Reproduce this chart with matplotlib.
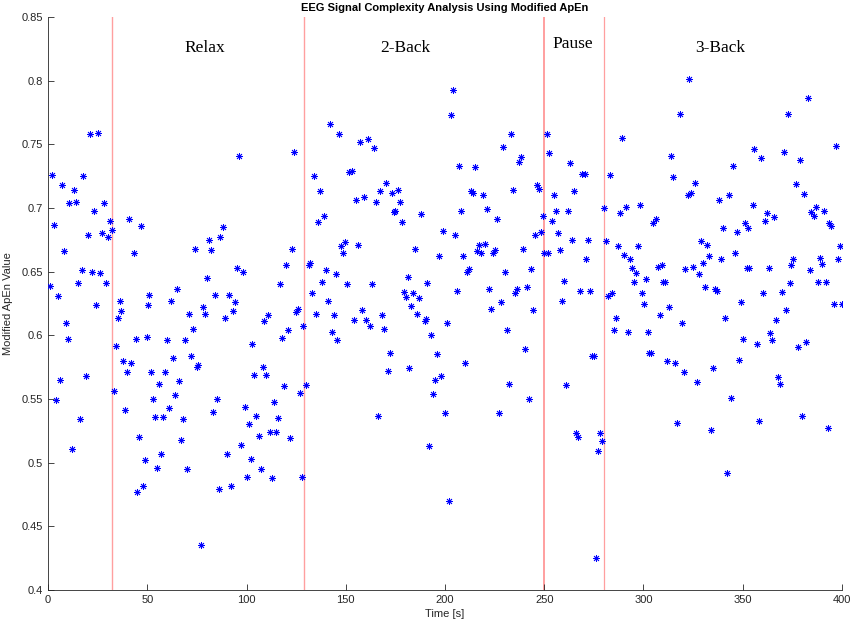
import matplotlib
matplotlib.use('Agg')
import matplotlib.pyplot as plt

# Czas [s] i wartości zmodyfikowanej ApEn (po kawałkach co ~50 s).
t_0_50 = [2.0, 6.9, 13.0, 17.8, 21.0, 25.3, 10.6, 14.0, 28.1, 23.1, 2.9, 20.0, 27.1, 30.1,
          31.1, 32.0, 40.9, 47.0, 43.1, 7.9, 17.0, 22.0, 26.1, 15.1, 29.1, 0.8, 4.9, 24.1,
          36.2, 50.5, 37.0, 8.9, 35.2, 10.1, 34.2, 44.1, 49.8, 37.9, 42.0, 40.0, 19.2, 5.9,
          3.9, 33.2, 38.9, 16.0, 46.0, 12.0, 49.0, 48.0, 44.9]
v_0_50 = [0.726, 0.718, 0.714, 0.725, 0.758, 0.759, 0.704, 0.705, 0.704, 0.698, 0.687, 0.679,
          0.680, 0.677, 0.690, 0.683, 0.691, 0.686, 0.665, 0.666, 0.651, 0.650, 0.649, 0.641,
          0.641, 0.639, 0.631, 0.624, 0.627, 0.624, 0.619, 0.610, 0.614, 0.597, 0.592, 0.597,
          0.599, 0.580, 0.578, 0.571, 0.568, 0.565, 0.549, 0.556, 0.541, 0.534, 0.520, 0.511,
          0.502, 0.482, 0.477]

t_50_100 = [96.1, 88.0, 80.9, 86.9, 74.0, 81.9, 95.0, 98.1, 79.9, 91.0, 51.0, 65.1, 62.1, 71.2,
            77.9, 78.9, 84.0, 94.0, 93.0, 89.0, 72.9, 60.1, 69.2, 63.1, 71.8, 75.7, 74.9, 52.0,
            59.1, 66.1, 56.1, 53.0, 64.1, 85.0, 54.0, 58.1, 61.1, 68.2, 82.9, 99.1, 101.1, 67.1,
            97.1, 90.0, 57.1, 55.0, 70.2, 102.2, 100.1, 86.0, 92.0, 76.9]
v_50_100 = [0.741, 0.685, 0.675, 0.677, 0.668, 0.667, 0.653, 0.650, 0.645, 0.632, 0.632, 0.636,
            0.627, 0.617, 0.622, 0.617, 0.632, 0.626, 0.619, 0.614, 0.605, 0.596, 0.596, 0.582,
            0.584, 0.577, 0.575, 0.571, 0.571, 0.564, 0.562, 0.550, 0.553, 0.550, 0.536, 0.536,
            0.543, 0.534, 0.540, 0.544, 0.530, 0.518, 0.514, 0.507, 0.507, 0.496, 0.495, 0.503,
            0.489, 0.479, 0.482, 0.435]

t_100_150 = [123.9, 142.0, 146.7, 151.4, 134.0, 137.0, 139.0, 136.0, 122.9, 119.8, 147.7, 149.7,
             148.7, 131.9, 131.3, 140.0, 145.0, 150.8, 138.0, 116.8, 132.9, 141.0, 135.0, 144.0,
             126.0, 124.9, 110.8, 108.9, 128.7, 121.0, 117.8, 143.0, 145.7, 103.0, 108.1, 103.9,
             109.9, 118.7, 130.1, 126.9, 113.9, 105.0, 116.0, 106.1, 111.8, 114.8, 121.8, 107.1,
             112.9, 127.9]
v_100_150 = [0.744, 0.766, 0.758, 0.728, 0.725, 0.713, 0.694, 0.689, 0.668, 0.655, 0.670, 0.673,
             0.665, 0.657, 0.655, 0.651, 0.648, 0.640, 0.642, 0.640, 0.633, 0.627, 0.617, 0.616,
             0.621, 0.618, 0.616, 0.611, 0.607, 0.604, 0.598, 0.603, 0.596, 0.593, 0.575, 0.569,
             0.569, 0.560, 0.561, 0.555, 0.548, 0.537, 0.535, 0.521, 0.524, 0.524, 0.519, 0.495,
             0.488, 0.489]

t_150_200 = [157.1, 161.1, 164.1, 153.0, 170.2, 167.1, 173.2, 176.2, 155.0, 159.1, 165.1, 177.2,
             174.2, 175.0, 178.2, 188.0, 199.1, 156.0, 185.0, 197.1, 163.1, 181.3, 191.0, 179.2,
             180.2, 183.9, 186.9, 182.9, 186.0, 189.7, 190.3, 158.1, 154.0, 160.1, 162.1, 168.2,
             169.2, 201.1, 193.0, 172.2, 196.0, 171.2, 181.9, 198.1, 195.0, 194.0, 200.1, 166.1,
             192.0]
v_150_200 = [0.752, 0.754, 0.747, 0.729, 0.720, 0.713, 0.712, 0.714, 0.706, 0.709, 0.705, 0.705,
             0.697, 0.698, 0.689, 0.695, 0.682, 0.671, 0.668, 0.662, 0.640, 0.646, 0.641, 0.634,
             0.630, 0.633, 0.629, 0.623, 0.617, 0.611, 0.613, 0.620, 0.612, 0.612, 0.607, 0.616,
             0.605, 0.610, 0.600, 0.586, 0.585, 0.572, 0.574, 0.568, 0.565, 0.554, 0.539, 0.537,
             0.513]

t_200_250 = [204.2, 203.2, 233.1, 229.1, 251.3, 252.6, 207.2, 215.3, 238.2, 237.1, 213.3, 214.0,
             219.0, 234.1, 246.2, 247.2, 208.2, 221.0, 226.1, 249.2, 205.2, 245.2, 248.2, 254.0,
             217.3, 216.3, 218.3, 220.3, 224.0, 225.0, 239.2, 249.9, 251.9, 209.2, 211.3, 212.3,
             230.1, 243.2, 206.2, 222.0, 235.1, 236.1, 241.2, 244.2, 223.0, 228.1, 231.1, 240.2,
             210.3, 232.1, 242.2, 227.1, 202.2]
v_200_250 = [0.793, 0.773, 0.758, 0.748, 0.758, 0.743, 0.733, 0.732, 0.740, 0.736, 0.713, 0.712,
             0.710, 0.714, 0.718, 0.715, 0.698, 0.699, 0.691, 0.694, 0.679, 0.679, 0.681, 0.690,
             0.671, 0.666, 0.665, 0.672, 0.665, 0.667, 0.668, 0.665, 0.665, 0.662, 0.650, 0.652,
             0.650, 0.652, 0.635, 0.636, 0.633, 0.636, 0.638, 0.620, 0.621, 0.626, 0.604, 0.589,
             0.578, 0.562, 0.550, 0.539, 0.470]

t_250_300 = [289.0, 263.1, 269.2, 270.6, 283.3, 265.1, 255.0, 256.1, 262.1, 280.3, 288.3, 291.0,
             298.1, 257.1, 264.1, 272.2, 281.3, 287.3, 297.1, 258.1, 271.2, 290.3, 293.0, 294.0,
             296.0, 295.0, 301.1, 260.1, 268.2, 273.2, 282.3, 284.3, 299.1, 259.1, 300.1, 286.3,
             285.3, 292.0, 302.1, 274.2, 275.0, 303.0, 261.1, 266.1, 267.1, 278.2, 279.2, 277.2,
             276.2]
v_250_300 = [0.755, 0.735, 0.727, 0.727, 0.726, 0.713, 0.710, 0.698, 0.698, 0.700, 0.696, 0.701,
             0.702, 0.680, 0.675, 0.675, 0.674, 0.670, 0.670, 0.667, 0.660, 0.663, 0.660, 0.653,
             0.649, 0.642, 0.644, 0.643, 0.635, 0.635, 0.631, 0.633, 0.633, 0.627, 0.625, 0.614,
             0.604, 0.603, 0.603, 0.584, 0.584, 0.586, 0.561, 0.523, 0.520, 0.523, 0.517, 0.509,
             0.425]

t_300_350 = [323.2, 318.2, 314.1, 345.0, 315.1, 326.2, 323.9, 322.2, 338.0, 343.0, 306.1, 305.0,
             340.0, 351.1, 352.8, 347.1, 328.9, 331.9, 333.0, 346.0, 339.0, 329.9, 325.2, 320.8,
             327.9, 307.1, 309.1, 352.1, 353.4, 310.1, 311.1, 330.9, 336.0, 337.0, 349.1, 313.1,
             308.1, 319.2, 341.0, 350.1, 304.0, 312.1, 316.1, 320.2, 348.1, 335.0, 327.2, 344.0,
             317.1, 334.0, 342.0]
v_300_350 = [0.801, 0.774, 0.741, 0.733, 0.724, 0.720, 0.712, 0.710, 0.706, 0.710, 0.691, 0.688,
             0.684, 0.688, 0.684, 0.681, 0.674, 0.671, 0.662, 0.665, 0.660, 0.657, 0.654, 0.652,
             0.648, 0.654, 0.655, 0.653, 0.653, 0.642, 0.642, 0.638, 0.636, 0.635, 0.626, 0.622,
             0.616, 0.610, 0.614, 0.597, 0.586, 0.580, 0.578, 0.571, 0.581, 0.574, 0.563, 0.551,
             0.531, 0.526, 0.492]

t_350_400 = [382.9, 372.9, 355.7, 359.1, 370.8, 378.9, 397.1, 376.9, 380.9, 355.0, 362.1, 361.1,
             365.8, 384.6, 386.0, 387.0, 391.0, 393.7, 394.7, 399.1, 398.1, 375.5, 374.5, 389.0,
             390.0, 384.0, 363.1, 373.9, 388.0, 392.0, 360.1, 369.8, 396.0, 400.1, 371.8, 366.8,
             363.8, 364.8, 357.1, 377.9, 381.9, 367.8, 368.8, 358.1, 379.9, 393.0]
v_350_400 = [0.786, 0.774, 0.746, 0.739, 0.744, 0.738, 0.749, 0.719, 0.711, 0.702, 0.696, 0.690,
             0.693, 0.697, 0.694, 0.701, 0.698, 0.688, 0.686, 0.670, 0.660, 0.660, 0.655, 0.661,
             0.656, 0.651, 0.653, 0.641, 0.642, 0.642, 0.633, 0.634, 0.625, 0.625, 0.620, 0.612,
             0.602, 0.596, 0.593, 0.591, 0.595, 0.567, 0.562, 0.533, 0.537, 0.527]

# Granice faz eksperymentu i ich podpisy.
phase_lines = [32, 129, 250, 280]
line_widths = [1.0, 1.0, 1.4, 0.9]
phase_names = ['Relax', '2-Back', 'Pause', '3-Back']
phase_label_x = [79, 180, 264.5, 338.5]
phase_label_y = [0.826, 0.826, 0.829, 0.826]

time_s = t_0_50 + t_50_100 + t_100_150 + t_150_200 + t_200_250 + t_250_300 + t_300_350 + t_350_400
apen = v_0_50 + v_50_100 + v_100_150 + v_150_200 + v_200_250 + v_250_300 + v_300_350 + v_350_400

plt.rcParams['font.family'] = ['Liberation Sans', 'DejaVu Sans']

fig = plt.figure(figsize=(8.5, 6.25), dpi=100)
ax = fig.add_axes([0.0565, 0.056, 0.934, 0.9168])

for xv, lw in zip(phase_lines, line_widths):
    ax.axvline(xv, color='#ff9f9f', lw=lw, zorder=1)

# Gwiazdka jak w MATLAB-ie: 8 ramion.
ax.plot(time_s, apen, linestyle='none', marker=(8, 2, 0), color='blue',
        markersize=5.0, markeredgewidth=0.6, zorder=3)

for name, xv, yv in zip(phase_names, phase_label_x, phase_label_y):
    ax.text(xv, yv, name, ha='center', va='center', fontsize=12.5,
            family=['Liberation Serif', 'DejaVu Serif'])

ax.set_xlim(0, 400)
ax.set_ylim(0.4, 0.85)
ax.set_xticks(range(0, 401, 50))
yt = [0.4 + 0.05 * i for i in range(10)]
ax.set_yticks(yt)
ax.set_yticklabels([f'{v:g}' for v in [round(y, 2) for y in yt]])

for side in ['top', 'right']:
    ax.spines[side].set_visible(False)
for side in ['left', 'bottom']:
    ax.spines[side].set_color('#262626')
    ax.spines[side].set_linewidth(0.6)
ax.tick_params(direction='in', length=4, width=0.6, colors='#262626', labelsize=8)

ax.set_xlabel('Time [s]', fontsize=8, color='#262626', labelpad=3)
ax.set_ylabel('Modified ApEn Value', fontsize=8, color='#262626', labelpad=6)
ax.set_title('EEG Signal Complexity Analysis Using Modified ApEn', fontsize=8,
             fontweight='bold', pad=4)

fig.savefig('out.png', dpi=100, facecolor='white')
